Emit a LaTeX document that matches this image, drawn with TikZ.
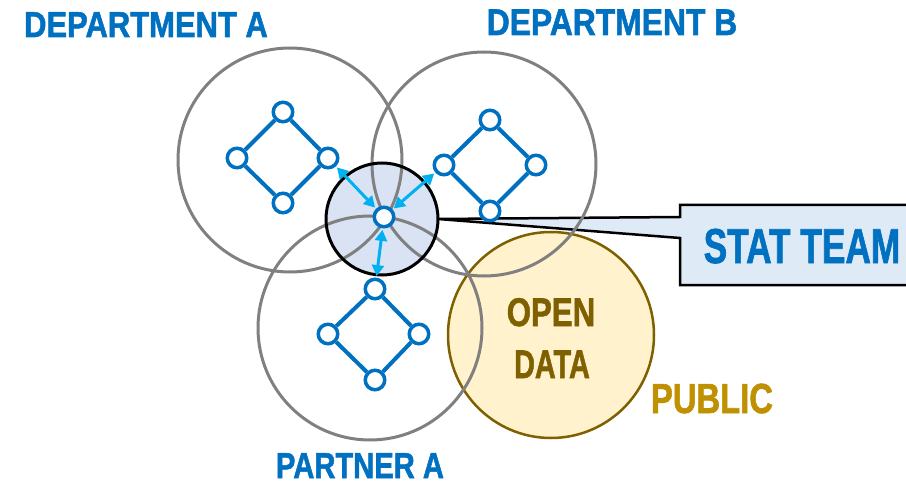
\documentclass[tikz,border=0pt]{standalone}
\usepackage{fontspec}
\setmainfont{Liberation Sans}[BoldFeatures={FakeBold=1.6}]
\usetikzlibrary{arrows.meta}
\definecolor{tblue}{HTML}{0070C0}
\definecolor{acyan}{HTML}{00B0F0}
\definecolor{cgrey}{HTML}{808080}
\definecolor{statfill}{HTML}{DAE3F3}
\definecolor{callfill}{HTML}{DEEBF7}
\definecolor{yfill}{HTML}{FFF2CC}
\definecolor{ybrown}{HTML}{7F6000}
\definecolor{ygold}{HTML}{BF9000}
\tikzset{
  grp/.style={draw=cgrey,line width=3pt},
  dnode/.style={circle,draw=tblue,fill=white,line width=3.5pt,minimum size=19.5pt,inner sep=0pt},
  dline/.style={draw=tblue,line width=4pt},
  arr/.style={draw=acyan,line width=3pt,{Triangle[length=11pt,width=12pt]}-{Triangle[length=11pt,width=12pt]},shorten <=1.5pt,shorten >=1.5pt},
  lbl/.style={anchor=base,inner sep=0pt,font=\bfseries,text=tblue}
}
\begin{document}
\begin{tikzpicture}[x=1pt,y=-1pt]
\useasboundingbox (0,0) rectangle (906,484);
\clip (0,0) rectangle (906,484);
% callout
\draw[fill=callfill,line width=2.5pt,line join=miter] (438,219) -- (680,217) -- (680,205) -- (930,205) -- (930,285) -- (680,285) -- (680,238) -- cycle;
\node[lbl,font=\bfseries\fontsize{49}{49}\selectfont] (stat) at (802,263) {\scalebox{0.72}[1]{STAT TEAM}};
% open data circle
\draw[fill=yfill,draw=ybrown,line width=2.5pt] (551,335) circle[radius=103pt];
% stat circle fill
\fill[statfill] (382,219) circle[radius=56pt];
% group circles
\draw[grp] (290,160) circle[radius=112pt];
\draw[grp] (484,164) circle[radius=112pt];
\draw[grp] (370,328) circle[radius=112pt];
% stat circle border
\draw[line width=3pt] (382,219) circle[radius=56pt];
% diamond A
\node[dnode] (a1) at (283,112) {};
\node[dnode] (a2) at (237,158) {};
\node[dnode] (a3) at (328,158) {};
\node[dnode] (a4) at (283,203) {};
% diamond B
\node[dnode] (b1) at (490,120) {};
\node[dnode] (b2) at (444,165) {};
\node[dnode] (b3) at (536,165) {};
\node[dnode] (b4) at (490,211) {};
% diamond P
\node[dnode] (p1) at (375,289) {};
\node[dnode] (p2) at (328,334) {};
\node[dnode] (p3) at (419,334) {};
\node[dnode] (p4) at (375,380) {};
% center
\node[dnode] (c) at (384,217) {};
\foreach \g in {a,b,p}{
  \draw[dline] (\g1) -- (\g2) -- (\g4) -- (\g3) -- (\g1);
}
\draw[arr] (c) -- (a3);
\draw[arr] (c) -- (b2);
\draw[arr] (c) -- (p1);
% labels
\node[lbl,font=\bfseries\fontsize{36}{36}\selectfont] (la) at (146,37) {\scalebox{0.86}[1]{DEPARTMENT A}};
\node[lbl,font=\bfseries\fontsize{37}{37}\selectfont] (lb) at (612,35) {\scalebox{0.86}[1]{DEPARTMENT B}};
\node[lbl,font=\bfseries\fontsize{36}{36}\selectfont] (lp) at (360,478) {\scalebox{0.81}[1]{PARTNER A}};
\node[lbl,text=ybrown,font=\bfseries\fontsize{40}{40}\selectfont] (open) at (551,326) {\scalebox{0.78}[1]{OPEN}};
\node[lbl,text=ybrown,font=\bfseries\fontsize{40}{40}\selectfont] (data) at (552,378) {\scalebox{0.72}[1]{DATA}};
\node[lbl,text=ygold,font=\bfseries\fontsize{42}{42}\selectfont] (pub) at (712,413) {\scalebox{0.78}[1]{PUBLIC}};
\end{tikzpicture}
\end{document}
